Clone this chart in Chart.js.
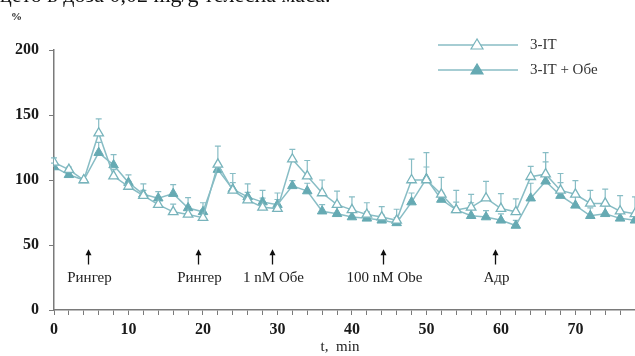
<!DOCTYPE html>
<html>
<head>
<meta charset="utf-8">
<script src="https://cdn.jsdelivr.net/npm/chart.js@4.4.0/dist/chart.umd.min.js"></script>
<style>
    body { margin: 0; background: #fff; }
    #wrap { position: relative; width: 635px; height: 356px; overflow: hidden; }
    #chart { position: absolute; left: 0; top: 0; }
    #caption { position: absolute; left: 0; top: -18px; font: 22px 'Liberation Serif', serif; color: #111; white-space: nowrap; }
</style>
</head>
<body>
<div id="wrap">
    <canvas id="chart" width="635" height="356"></canvas>
    <div id="caption">цето в доза 0,02 mg/g телесна маса.</div>
</div>
<script>
// --- Data ---
const times = [0, 2, 4, 6, 8, 10, 12, 14, 16, 18, 20, 22, 24, 26, 28, 30, 32, 34, 36, 38,
               40, 42, 44, 46, 48, 50, 52, 54, 56, 58, 60, 62, 64, 66, 68, 70, 72, 74, 76, 78];
const itValues = [113.5, 108, 100, 136, 103, 95, 88, 81, 75.5, 73.5, 71, 112, 92, 84.5, 79, 78, 116, 103, 90, 81,
                  77, 73.5, 71.5, 69, 100, 100, 89, 77, 79, 86, 78, 75.5, 102.5, 104.5, 92, 89, 82, 82, 76, 74];
const itErrors = [3.5, 2, 0, 11, 5, 4, 4, 5, 6, 6, 6, 14, 13, 6, 7, 7, 7.5, 12, 10, 10.5,
                  10, 9, 8, 8.5, 16, 21, 13, 15, 10, 13, 11.5, 10, 8, 16.5, 13, 10.5, 10, 11, 12, 13];
const itObeValues = [110, 104, 100, 121, 111.5, 98, 89, 86, 89.5, 78.5, 75.5, 108, 93, 87, 83, 81, 95.5, 91.5, 76, 74,
                     71.5, 70.5, 69, 67, 83, 101, 85, 77, 72.5, 71.5, 69, 65, 86, 99, 88, 80.5, 72.5, 74, 70.5, 69];
const itObeErrors = [3, 2, 0, 8, 8, 6, 8, 5, 7, 8, 7, 4, 5, 10, 9, 9, 4, 6, 5, 5,
                     5, 5, 4, 4, 7, 9, 5, 6, 10, 5, 5, 4, 11.5, 15, 10, 8, 6, 6, 6, 6];
const seriesNames = ['3-IT', '3-IT + Обе'];
const yTickStep = 50;
const markerTimes = [4.5, 19.3, 29.3, 44.2, 59.2];
const markerLabels = ['Рингер', 'Рингер', '1 nM Обе', '100 nM Obe', 'Адр'];

const LINE = '#88bdc5';
const MARK = '#66aab3';
const AXIS = '#7a7a7a';
const SERIF = "'Liberation Serif', 'Times New Roman', serif";

const toPoints = vals => vals.map((v, i) => ({ x: times[i], y: v }));

// --- Error bars (upper half only, with caps) ---
const errorBars = {
    id: 'errorBars',
    beforeDatasetsDraw(chart) {
        const { ctx } = chart;
        const y = chart.scales.y;
        const errs = [itErrors, itObeErrors];
        ctx.save();
        ctx.strokeStyle = LINE;
        ctx.lineWidth = 1.2;
        chart.data.datasets.forEach((ds, di) => {
            const meta = chart.getDatasetMeta(di);
            meta.data.forEach((pt, j) => {
                const e = errs[di][j];
                if (!e) return;
                const top = y.getPixelForValue(ds.data[j].y + e);
                ctx.beginPath();
                ctx.moveTo(pt.x, pt.y);
                ctx.lineTo(pt.x, top);
                ctx.moveTo(pt.x - 3, top);
                ctx.lineTo(pt.x + 3, top);
                ctx.stroke();
            });
        });
        ctx.restore();
    }
};

// --- Arrows, labels, legend ---
const annotations = {
    id: 'annotations',
    afterDraw(chart) {
        const { ctx } = chart;
        const x = chart.scales.x;
        const y = chart.scales.y;
        ctx.save();

        // treatment arrows
        ctx.fillStyle = '#111';
        ctx.strokeStyle = '#111';
        ctx.lineWidth = 1.3;
        markerTimes.forEach((t, i) => {
            const px = Math.round(x.getPixelForValue(t)) + 0.5;
            const top = y.getPixelForValue(46);
            const bottom = y.getPixelForValue(35);
            ctx.beginPath();
            ctx.moveTo(px, top + 3);
            ctx.lineTo(px, bottom);
            ctx.stroke();
            ctx.beginPath();
            ctx.moveTo(px, top - 1);
            ctx.lineTo(px - 3, top + 5);
            ctx.lineTo(px + 3, top + 5);
            ctx.closePath();
            ctx.fill();
            ctx.font = '15px ' + SERIF;
            ctx.textAlign = 'center';
            ctx.textBaseline = 'middle';
            ctx.fillStyle = '#222';
            ctx.fillText(markerLabels[i], px + 1, y.getPixelForValue(24.5));
            ctx.fillStyle = '#111';
        });

        // axis captions
        ctx.fillStyle = '#222';
        ctx.font = 'bold 11px ' + SERIF;
        ctx.textAlign = 'left';
        ctx.textBaseline = 'middle';
        ctx.fillText('%', 11, 17);
        ctx.font = '15px ' + SERIF;
        ctx.textAlign = 'center';
        ctx.fillText('t,  min', 340, 347);

        // legend
        const rows = [
            { y: 45, fill: '#fff', stroke: '#78b4bc' },
            { y: 70, fill: MARK, stroke: MARK }
        ];
        rows.forEach((r, i) => {
            ctx.strokeStyle = LINE;
            ctx.lineWidth = 1.5;
            ctx.beginPath();
            ctx.moveTo(438, r.y);
            ctx.lineTo(518, r.y);
            ctx.stroke();
            ctx.beginPath();
            ctx.moveTo(477, r.y - 6);
            ctx.lineTo(471, r.y + 4);
            ctx.lineTo(483, r.y + 4);
            ctx.closePath();
            ctx.fillStyle = r.fill;
            ctx.fill();
            ctx.strokeStyle = r.stroke;
            ctx.lineWidth = 1.2;
            ctx.stroke();
            ctx.fillStyle = '#333';
            ctx.font = '15px ' + SERIF;
            ctx.textAlign = 'left';
            ctx.textBaseline = 'middle';
            ctx.fillText(seriesNames[i], 530, r.y);
        });
        ctx.restore();
    }
};

new Chart(document.getElementById('chart'), {
    type: 'line',
    data: {
        datasets: [
            {
                label: seriesNames[0],
                data: toPoints(itValues),
                borderColor: LINE,
                borderWidth: 1.5,
                pointStyle: 'triangle',
                pointRadius: 5.5,
                pointBackgroundColor: '#fff',
                pointBorderColor: '#78b4bc',
                pointBorderWidth: 1.3
            },
            {
                label: seriesNames[1],
                data: toPoints(itObeValues),
                borderColor: LINE,
                borderWidth: 1.5,
                pointStyle: 'triangle',
                pointRadius: 5.5,
                pointBackgroundColor: MARK,
                pointBorderColor: MARK,
                pointBorderWidth: 1
            }
        ]
    },
    options: {
        responsive: false,
        animation: false,
        layout: { autoPadding: false, padding: { top: 50, left: 0, right: 0, bottom: 0 } },
        plugins: { legend: { display: false }, tooltip: { enabled: false } },
        scales: {
            x: {
                type: 'linear',
                min: 0,
                max: 78,
                afterFit: s => { s.height = 46; s.paddingRight = 0; },
                ticks: {
                    stepSize: 2,
                    autoSkip: false,
                    maxRotation: 0,
                    padding: 5,
                    color: '#1a1a1a',
                    font: { family: SERIF, size: 16, weight: 'bold' },
                    callback: v => (v % 10 === 0 ? v : '')
                },
                grid: { drawOnChartArea: false, tickLength: 5, color: AXIS, lineWidth: 1 },
                border: { color: AXIS, width: 1.5 }
            },
            y: {
                min: 0,
                max: 200,
                afterFit: s => { s.width = 54; },
                ticks: {
                    stepSize: yTickStep,
                    padding: 10,
                    color: '#1a1a1a',
                    font: { family: SERIF, size: 16, weight: 'bold' }
                },
                grid: { drawOnChartArea: false, tickLength: 5, color: AXIS, lineWidth: 1 },
                border: { color: AXIS, width: 1.5 }
            }
        }
    },
    plugins: [errorBars, annotations]
});
</script>
</body>
</html>
